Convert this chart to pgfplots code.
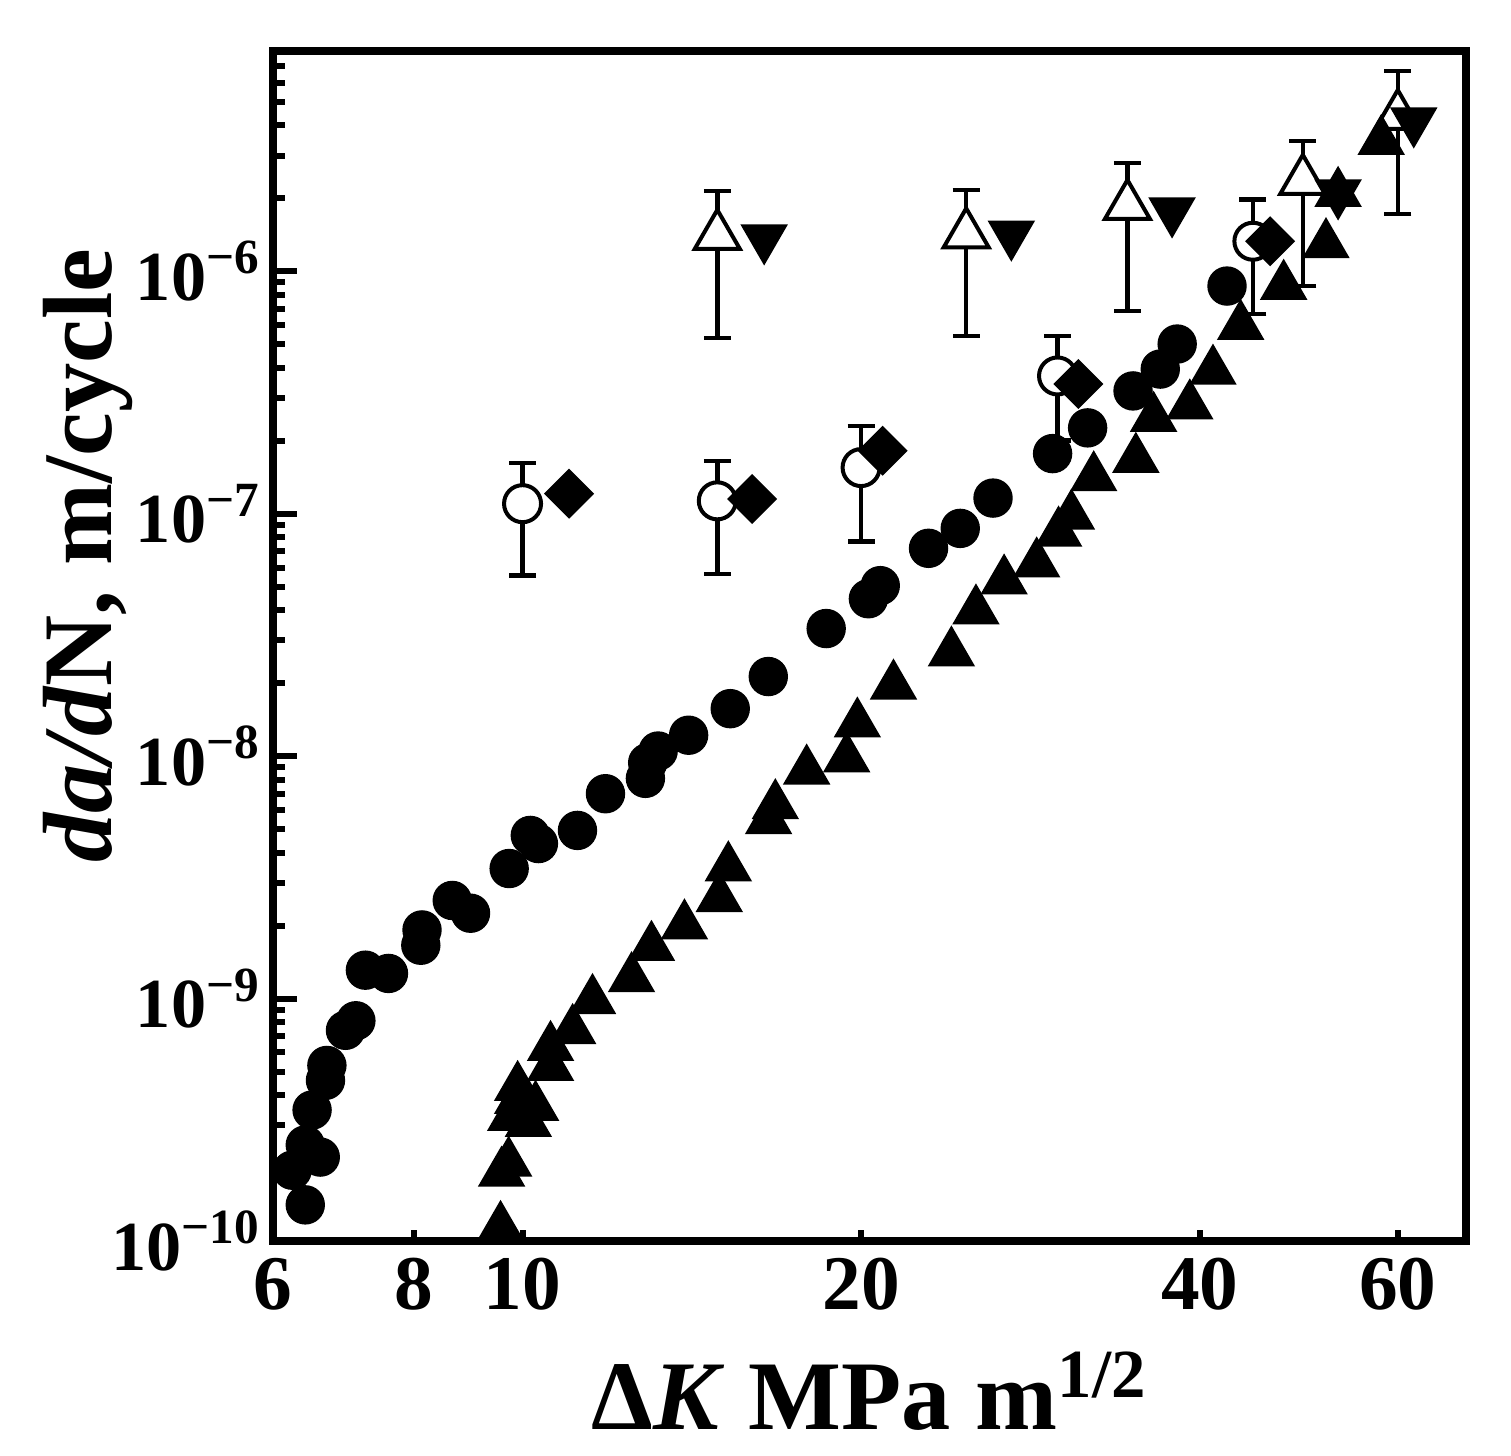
\documentclass[border=0pt]{standalone}
\usepackage{pgfplots}
\pgfplotsset{compat=1.18}
\usepackage{pgfplotstable}
\usepackage{fontspec}
\setmainfont{Liberation Serif}

\pgfplotstableread{
x y
6.41 1.41e-10
6.24 1.96e-10
6.61 2.22e-10
6.41 2.49e-10
6.50 3.47e-10
6.68 4.6e-10
6.70 5.3e-10
6.96 7.4e-10
7.11 8.1e-10
7.25 1.31e-9
7.60 1.27e-9
8.12 1.66e-9
8.14 1.92e-9
8.66 2.54e-9
8.99 2.25e-9
9.73 3.44e-9
10.16 4.71e-9
10.33 4.36e-9
11.19 4.94e-9
11.85 7.0e-9
12.86 8.1e-9
12.92 9.4e-9
13.2 1.05e-8
14.05 1.22e-8
15.3 1.57e-8
16.54 2.13e-8
18.62 3.36e-8
20.3 4.46e-8
20.8 5.05e-8
22.96 7.2e-8
24.5 8.7e-8
26.2 1.16e-7
29.6 1.77e-7
31.8 2.26e-7
34.9 3.21e-7
36.9 3.95e-7
38.2 5.01e-7
42.3 8.69e-7
}\fcirc

\pgfplotstableread{
x y
9.56 1.14e-10
9.58 1.91e-10
9.72 2.10e-10
9.76 3.24e-10
9.90 3.81e-10
9.90 4.31e-10
10.27 3.57e-10
10.12 3.06e-10
10.59 6.3e-10
10.59 5.21e-10
11.08 7.4e-10
11.54 9.84e-10
12.50 1.21e-9
13.02 1.63e-9
13.93 2.0e-9
14.96 2.59e-9
15.24 3.47e-9
16.55 5.43e-9
16.78 6.26e-9
17.89 8.7e-9
19.42 9.77e-9
19.85 1.36e-8
21.37 1.95e-8
24.06 2.67e-8
25.3 3.98e-8
26.8 5.29e-8
28.65 6.22e-8
29.96 8.34e-8
30.76 9.8e-8
32.2 1.41e-7
35.1 1.68e-7
36.4 2.48e-7
39.2 2.79e-7
41.1 3.88e-7
43.5 5.94e-7
47.5 8.69e-7
51.8 1.29e-6
53.1 2.1e-6
58.0 3.44e-6
}\ftri

\pgfplotstableread{
x y ep em
10.0 1.10e-7 0.52e-7 0.545e-7
14.9 1.13e-7 0.52e-7 0.565e-7
20.0 1.55e-7 0.75e-7 0.78e-7
29.9 3.70e-7 1.70e-7 1.70e-7
44.6 1.33e-6 0.65e-6 0.664e-6
}\ocirc

\pgfplotstableread{
x y ep em
14.9 1.40e-6 0.74e-6 0.87e-6
24.8 1.42e-6 0.74e-6 0.88e-6
34.5 1.86e-6 0.93e-6 1.175e-6
49.4 2.36e-6 1.08e-6 1.49e-6
60.0 4.37e-6 2.33e-6 2.65e-6
}\otri

\pgfplotstableread{
x y
11.0 1.21e-7
16.0 1.15e-7
20.9 1.82e-7
31.2 3.43e-7
46.2 1.33e-6
}\fdiam

\pgfplotstableread{
x y
16.4 1.37e-6
27.2 1.42e-6
37.8 1.77e-6
53.1 2.10e-6
62.0 4.16e-6
}\fdown

\begin{document}
\begin{tikzpicture}
\begin{axis}[
  scale only axis, width=11.93cm, height=11.90cm,
  xmode=log, ymode=log,
  xmin=6, xmax=69, ymin=1e-10, ymax=8.1e-6,
  xtick={6,8,10,20,40,60}, xticklabels={6,8,10,20,40,60},
  minor xtick={},
  ytick={1e-10,1e-9,1e-8,1e-7,1e-6},
  yticklabels={10\textsuperscript{−10},10\textsuperscript{−9},10\textsuperscript{−8},10\textsuperscript{−7},10\textsuperscript{−6}},
  minor ytick={2e-10,3e-10,4e-10,5e-10,6e-10,7e-10,8e-10,9e-10,
               2e-9,3e-9,4e-9,5e-9,6e-9,7e-9,8e-9,9e-9,
               2e-8,3e-8,4e-8,5e-8,6e-8,7e-8,8e-8,9e-8,
               2e-7,3e-7,4e-7,5e-7,6e-7,7e-7,8e-7,9e-7,
               2e-6,3e-6,4e-6,5e-6,6e-6,7e-6,8e-6},
  tick pos=left, tick align=inside,
  axis line style={line width=0.8mm},
  major tick length=2.4mm, minor tick length=1.2mm,
  every tick/.style={black, line width=0.6mm},
  xtick style={/pgfplots/major tick length=1.1mm},
  yticklabel style={font=\fontsize{20}{24}\selectfont\bfseries},
  xticklabel style={font=\fontsize{22}{26}\selectfont\bfseries, yshift=-0.5mm},
  xlabel={Δ\textit{K} MPa m\textsuperscript{1/2}},
  ylabel={\textit{da/d}N, m/cycle},
  label style={font=\fontsize{28}{32}\selectfont\bfseries},
  xlabel style={at={(axis description cs:0.5,-0.158)}, anchor=base, inner sep=0pt},
  ylabel style={at={(axis description cs:-0.155,0.576)}, anchor=center},
  error bars/error bar style={line width=0.45mm, black},
  error bars/error mark options={line width=0.45mm, black, mark size=1.35mm, rotate=90},
]
% white-filled open markers with error bars (hide the bar inside the marker)
\addplot[only marks, mark=*, mark size=1.85mm, mark options={fill=white, draw=white},
  error bars/.cd, y dir=both, y explicit]
  table[x=x, y=y, y error plus=ep, y error minus=em] {\ocirc};
\addplot[only marks, mark=triangle*, mark size=2.6mm, mark options={fill=white, draw=white},
  error bars/.cd, y dir=both, y explicit]
  table[x=x, y=y, y error plus=ep, y error minus=em] {\otri};
% filled series
\addplot[only marks, mark=*, mark size=1.9mm, mark options={fill=black, draw=black}] table[x=x,y=y] {\fcirc};
\addplot[only marks, mark=triangle*, mark size=2.6mm, mark options={fill=black, draw=black}] table[x=x,y=y] {\ftri};
\addplot[only marks, mark=square*, mark size=1.7mm, mark options={fill=black, draw=black, rotate=45}] table[x=x,y=y] {\fdiam};
\addplot[only marks, mark=triangle*, mark size=2.6mm, mark options={fill=black, draw=black, rotate=180}] table[x=x,y=y] {\fdown};
% open outlines on top
\addplot[only marks, mark=o, mark size=1.85mm, mark options={draw=black, line width=0.4mm}] table[x=x,y=y] {\ocirc};
\addplot[only marks, mark=triangle, mark size=2.6mm, mark options={draw=black, line width=0.4mm}] table[x=x,y=y] {\otri};
\end{axis}
\path (current axis.south west) ++(-2.73cm,-2.14cm) rectangle ++(15.11cm,14.55cm);
\end{tikzpicture}
\end{document}
